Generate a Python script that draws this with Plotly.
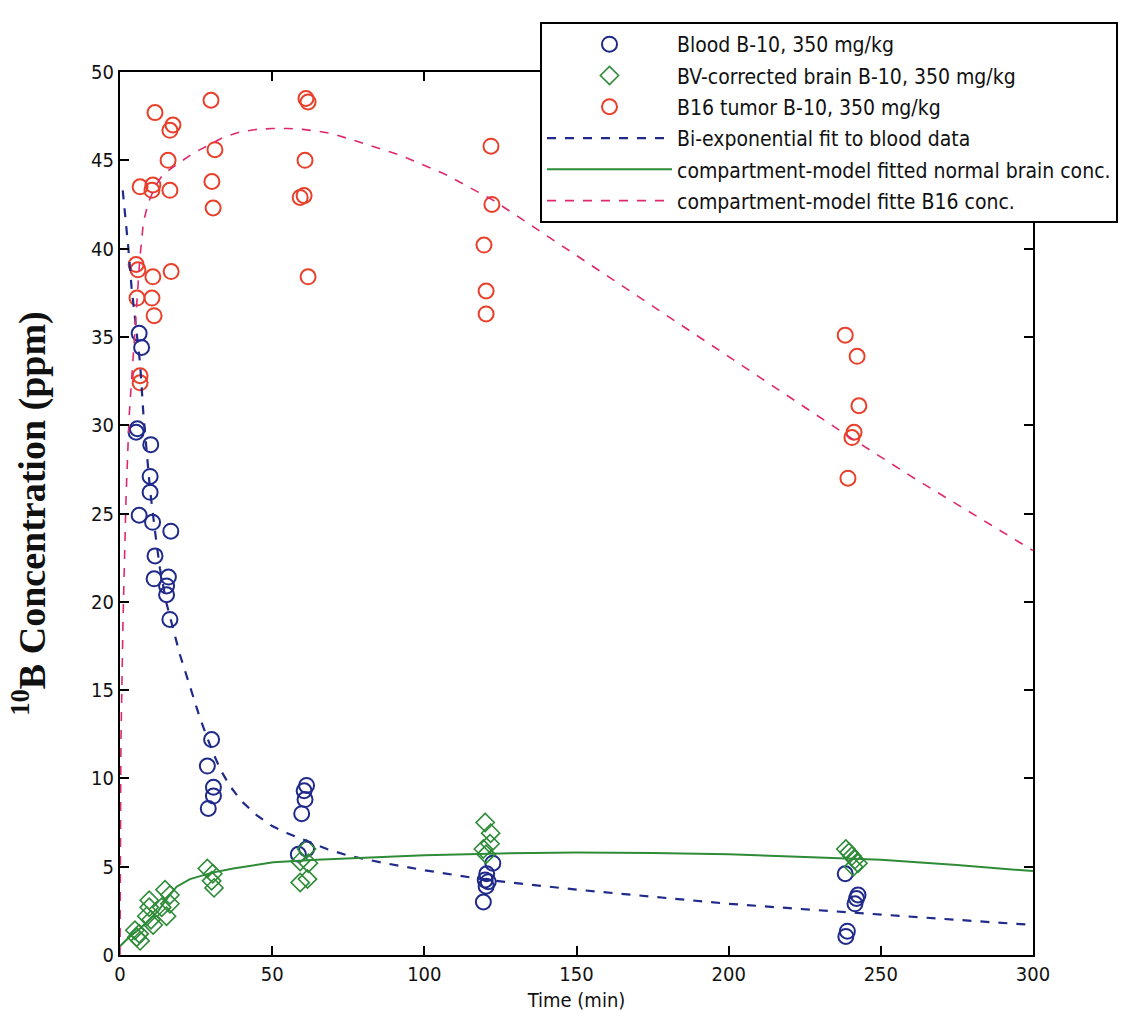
import plotly.graph_objects as go

# ---- data ----
blood_t = [6.3, 7.1, 5.3, 5.7, 6.3,
           10.1, 9.9, 9.9, 10.7, 11.5, 11.2,
           16.7, 15.9, 15.3, 15.3, 16.4,
           30.1, 28.7, 30.7, 30.7, 29.0,
           61.3, 60.5, 60.8, 59.7, 61.3, 58.6,
           122.5, 120.5, 120.0, 121.0, 120.3, 119.4,
           238.3, 242.5, 242.0, 241.5, 239.0, 238.5]
blood_c = [35.2, 34.4, 29.6, 29.8, 24.9,
           28.9, 27.1, 26.2, 24.5, 22.6, 21.3,
           24.0, 21.4, 20.9, 20.4, 19.0,
           12.2, 10.7, 9.5, 9.0, 8.3,
           9.6, 9.3, 8.8, 8.0, 6.0, 5.7,
           5.2, 4.6, 4.25, 4.15, 3.9, 3.0,
           4.6, 3.4, 3.2, 2.9, 1.35, 1.05]

brain_t = [4.9, 6.3, 6.6, 5.5,
           9.6, 9.6, 8.8, 10.9, 10.2,
           14.8, 16.4, 13.7, 15.3, 16.4,
           28.7, 30.5, 30.1, 30.9,
           61.3, 59.2, 61.9, 59.2, 61.6,
           120.0, 121.8, 121.6, 119.4, 120.3,
           238.5, 239.5, 240.5, 241.5, 242.5, 241.0]
brain_c = [1.4, 1.2, 0.8, 1.0,
           3.1, 2.7, 2.2, 1.7, 2.0,
           3.7, 3.4, 2.7, 2.2, 2.9,
           4.9, 4.6, 4.2, 3.8,
           6.0, 5.3, 5.2, 4.1, 4.3,
           7.5, 6.9, 6.3, 6.0, 5.7,
           6.0, 5.8, 5.6, 5.4, 5.2, 5.0]

tumor_t = [5.3, 5.9, 5.6, 6.6, 6.6, 6.6,
           11.5, 10.8, 10.5, 10.8, 10.5, 11.2,
           16.4, 17.4, 15.8, 16.4, 16.8,
           29.9, 31.2, 30.2, 30.6,
           61.1, 61.8, 60.8, 59.2, 60.5, 61.8,
           121.9, 122.2, 119.6, 120.3, 120.3,
           238.3, 242.2, 242.8, 241.2, 240.5, 239.2]
tumor_c = [39.1, 38.8, 37.2, 32.8, 32.4, 43.5,
           47.7, 43.6, 43.3, 38.4, 37.2, 36.2,
           46.7, 47.0, 45.0, 43.3, 38.7,
           48.4, 45.6, 43.8, 42.3,
           48.5, 48.3, 45.0, 42.9, 43.0, 38.4,
           45.8, 42.5, 40.2, 37.6, 36.3,
           35.1, 33.9, 31.1, 29.6, 29.3, 27.0]

# fitted curves
blood_fit_t = [0.9, 1.8, 2.7, 3.8, 4.7, 5.5, 6.6, 7.7, 8.8, 9.9, 11.5, 13.1, 15.3, 17.5,
               19.7, 23, 26.3, 30.2, 33, 36, 40, 45, 50, 55, 61, 68, 75.6, 87, 100,
               120.6, 150, 175, 200, 220, 240, 270, 300]
blood_fit_c = [43.3, 41.8, 40.1, 37.8, 36.5, 35.4, 33.5, 30.6, 28.4, 26.3, 24.0, 21.9,
               19.9, 18.4, 17.0, 15.2, 13.4, 11.6, 10.5, 9.6, 8.7, 7.9, 7.3, 6.9, 6.5,
               6.0, 5.6, 5.2, 4.8, 4.25, 3.7, 3.3, 2.9, 2.65, 2.4, 2.05, 1.7]

brain_fit_t = [0, 3, 6.6, 9.5, 12.6, 15.5, 18.6, 23, 30, 37.2, 50.4, 64.6, 78.9, 100,
               125, 150, 175, 200, 225, 250, 275, 300]
brain_fit_c = [0.5, 1.0, 1.5, 2.0, 2.5, 3.2, 3.87, 4.3, 4.65, 4.9, 5.25, 5.4, 5.5, 5.65,
               5.75, 5.8, 5.77, 5.7, 5.55, 5.4, 5.1, 4.75]

tumor_fit_t = [0, 0.3, 1.0, 2.0, 3.0, 4.4, 5.6, 6.5, 7.7, 9.3, 11.5, 13.7, 16.5, 19.7,
               24, 29.6, 34, 39.4, 45, 50, 55, 60, 65, 70, 79, 92, 107, 123, 137, 158,
               180, 200, 220, 240, 260, 280, 300]
tumor_fit_c = [0, 12, 19, 26, 30.5, 34, 37, 39.4, 41.5, 42.6, 43.5, 44.1, 44.5, 44.9,
               45.4, 45.9, 46.3, 46.6, 46.75, 46.8, 46.8, 46.75, 46.65, 46.5, 46.0, 45.3,
               44.2, 42.7, 41.1, 38.7, 36.2, 33.9, 31.6, 29.3, 27.1, 25.0, 22.9]

x_ticks = [0, 50, 100, 150, 200, 250, 300]
y_ticks = [0, 5, 10, 15, 20, 25, 30, 35, 40, 45, 50]

BLUE = "#1f2a8a"
GREEN = "#2e8b37"
RED = "#e8402a"
PINK = "#e0286e"
NARROW = "Liberation Sans Narrow, Arial Narrow, DejaVu Sans Condensed, sans-serif"

fig = go.Figure()
fig.add_trace(go.Scatter(x=blood_t, y=blood_c, mode="markers", legendgroup="g1",
                         name="Blood B-10, 350 mg/kg",
                         marker=dict(symbol="circle-open", size=15, color=BLUE,
                                     line=dict(width=2, color=BLUE))))
fig.add_trace(go.Scatter(x=brain_t, y=brain_c, mode="markers", legendgroup="g2",
                         name="BV-corrected brain B-10, 350 mg/kg",
                         marker=dict(symbol="diamond-open", size=14, color=GREEN,
                                     line=dict(width=1.6, color=GREEN))))
fig.add_trace(go.Scatter(x=tumor_t, y=tumor_c, mode="markers", legendgroup="g3",
                         name="B16 tumor B-10, 350 mg/kg",
                         marker=dict(symbol="circle-open", size=15, color=RED,
                                     line=dict(width=2, color=RED))))
fig.add_trace(go.Scatter(x=blood_fit_t, y=blood_fit_c, mode="lines", legendgroup="g4",
                         name="Bi-exponential fit to blood data",
                         line=dict(color=BLUE, width=2.2, dash="dash")))
fig.add_trace(go.Scatter(x=brain_fit_t, y=brain_fit_c, mode="lines", legendgroup="g5",
                         name="compartment-model fitted normal brain conc.",
                         line=dict(color=GREEN, width=2)))
fig.add_trace(go.Scatter(x=tumor_fit_t, y=tumor_fit_c, mode="lines", legendgroup="g6",
                         name="compartment-model fitte B16 conc.",
                         line=dict(color=PINK, width=1.6, dash="dash")))

fig.update_layout(
    width=1135, height=1013,
    margin=dict(l=120, r=102, t=72, b=58, autoexpand=False),
    paper_bgcolor="white", plot_bgcolor="white",
    showlegend=True,
    legend=dict(x=(540 - 120) / 913, y=(955 - 22) / 883, xanchor="left", yanchor="top",
                bgcolor="white", bordercolor="black", borderwidth=2,
                font=dict(family=NARROW, size=21, color="#111"),
                itemwidth=125, tracegroupgap=1, traceorder="grouped"),
    font=dict(family=NARROW, color="#111"),
)
fig.update_xaxes(range=[0, 300], tickvals=x_ticks, ticktext=[str(v) for v in x_ticks],
                 ticks="inside", ticklen=9, tickwidth=2, tickcolor="black",
                 showline=True, linewidth=2, linecolor="black", mirror="ticks",
                 showgrid=False, zeroline=False,
                 tickfont=dict(family=NARROW, size=20, color="#111"),
                 title=dict(text="Time (min)", font=dict(family=NARROW, size=20, color="#111"),
                            standoff=8))
fig.update_yaxes(range=[0, 50], tickvals=y_ticks, ticktext=[str(v) for v in y_ticks],
                 ticks="inside", ticklen=9, tickwidth=2, tickcolor="black",
                 showline=True, linewidth=2, linecolor="black", mirror="ticks",
                 showgrid=False, zeroline=False,
                 tickfont=dict(family=NARROW, size=20, color="#111"),
                 title=dict(text="<sup>10</sup>B Concentration (ppm)",
                            font=dict(family="Liberation Serif, Times New Roman, serif",
                                      size=38, color="#111", weight="bold"),
                            standoff=34))

fig.write_html("out.html")
